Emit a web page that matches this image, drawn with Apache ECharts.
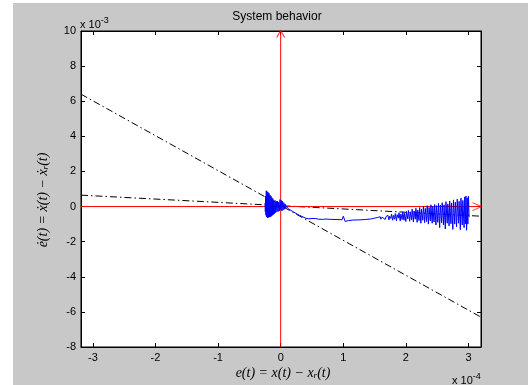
<!DOCTYPE html>
<html><head><meta charset="utf-8">
<script src="https://cdn.jsdelivr.net/npm/echarts@6/dist/echarts.min.js"></script>
<style>html,body{margin:0;padding:0;background:#fff}#c{width:528px;height:385px}</style>
</head><body><div id="c"></div>
<script>
// ---- data (x in units of 1e-4, y in units of 1e-3) ----
const xTicks = [-3, -2, -1, 0, 1, 2, 3];
const yTicks = [-8, -6, -4, -2, 0, 2, 4, 6, 8, 10];
const xRange = [-3.19, 3.2];
const yRange = [-8, 10];
// dash-dot guide lines (endpoints)
const guideSteep = [[-3.19, 6.4], [3.2, -6.3]];
const guideShallow = [[-3.19, 0.65], [3.2, -0.55]];
// red coordinate axes
const redHorizontal = [[-3.19, 0], [3.2, 0]];
const redVertical = [[0, -8], [0, 10]];
// blue system trajectory
const trajectory = [
  [-0.25,0.2],[-0.245,-0.3],[-0.24,0.6],[-0.235,-0.5],[-0.23,0.9],[-0.222,-0.6],[-0.215,0.85],[-0.207,-0.65],
  [-0.2,0.8],[-0.193,-0.62],[-0.186,0.75],[-0.178,-0.6],[-0.17,0.65],[-0.162,-0.58],[-0.155,0.6],[-0.147,-0.55],
  [-0.14,0.5],[-0.132,-0.5],[-0.125,0.45],[-0.117,-0.45],[-0.11,0.35],[-0.1,-0.4],[-0.09,0.35],[-0.08,-0.35],
  [-0.07,0.3],[-0.06,-0.3],[-0.05,0.3],[-0.04,-0.28],[-0.03,0.25],[-0.02,-0.25],[-0.01,0.4],[0.0,-0.2],
  [0.01,0.35],[0.02,-0.25],[0.03,0.3],[0.04,-0.2],[0.05,0.22],[0.06,-0.15],[0.07,0.15],[0.08,-0.1],[0.09,0.02],
  [0.12,-0.12],[0.2,-0.3],[0.3,-0.5],[0.4,-0.66],[0.45,-0.7],[0.5,-0.68],[0.53,-0.72],[0.56,-0.68],[0.6,-0.72],
  [0.63,-0.69],[0.67,-0.73],[0.72,-0.71],[0.8,-0.73],[0.9,-0.74],[0.98,-0.75],[1.0,-0.55],[1.01,-0.45],
  [1.02,-0.6],[1.03,-0.85],[1.05,-0.92],[1.08,-0.8],[1.15,-0.77],[1.25,-0.76],[1.35,-0.74],[1.45,-0.7],
  [1.5,-0.66],[1.55,-0.62],[1.57,-0.7],[1.59,-0.58],[1.6,-0.72],[1.62,-0.6],[1.64,-0.66],[1.65,-0.52],
  [1.67,-0.74],[1.68,-0.6],[1.7,-0.7],[1.71,-0.48],[1.73,-0.76],[1.74,-0.55],[1.76,-0.68],[1.77,-0.44],
  [1.79,-0.78],[1.8,-0.5],[1.82,-0.72],[1.83,-0.4],[1.85,-0.8],[1.86,-0.46],[1.88,-0.66],[1.89,-0.35],
  [1.91,-0.82],[1.92,-0.42],[1.94,-0.74],[1.95,-0.3],[1.97,-0.78],[1.98,-0.38],[2.0,-0.85],[2.01,-0.28],
  [2.03,-0.7],[2.04,-0.22],[2.06,-0.84],[2.07,-0.3],[2.09,-0.76],[2.1,-0.15],[2.12,-0.88],[2.13,-0.25],
  [2.15,-0.72],[2.16,-0.1],[2.18,-0.9],[2.19,-0.2],[2.21,-0.8],[2.22,-0.06],[2.24,-0.95],[2.25,-0.15],
  [2.27,-0.78],[2.28,0.0],[2.3,-0.92],[2.31,-0.1],[2.33,-0.85],[2.34,0.05],[2.36,-1.0],[2.37,-0.05],
  [2.39,-0.82],[2.4,0.1],[2.42,-0.95],[2.43,0.0],[2.45,-0.88],[2.46,0.12],[2.48,-1.05],[2.49,0.05],
  [2.51,-0.9],[2.52,0.18],[2.54,-1.2],[2.55,0.08],[2.57,-0.92],[2.58,0.22],[2.6,-1.05],[2.61,0.1],
  [2.63,-1.28],[2.64,0.28],[2.66,-0.95],[2.67,0.15],[2.69,-1.1],[2.7,0.32],[2.72,-0.98],[2.73,0.2],
  [2.75,-1.3],[2.76,0.38],[2.78,-1.0],[2.79,0.25],[2.81,-1.15],[2.82,0.42],[2.84,-0.95],[2.85,0.3],
  [2.87,-1.32],[2.88,0.48],[2.9,-1.05],[2.91,0.35],[2.93,-1.2],[2.94,0.55],[2.95,-0.98],[2.96,0.6],
  [2.97,-1.35],[2.98,0.5],[2.99,-1.0],[3.0,0.58],[3.01,-0.6]
];

const chart = echarts.init(document.getElementById('c'), null, {renderer: 'canvas'});
const tickFont = {color: '#000', fontSize: 11, fontFamily: 'Liberation Sans, Arial, sans-serif'};
const chevron = 'path://M0,0L10,5L0,10';
const serif = 'Liberation Serif, DejaVu Serif, serif';

chart.setOption({
  animation: false,
  backgroundColor: '#ffffff',
  grid: {left: 81, right: 47, top: 31, bottom: 38, show: true, backgroundColor: '#fff', borderColor: '#000', borderWidth: 1},
  graphic: [
    {type: 'rect', z: -10, silent: true, shape: {x: 13, y: 3, width: 515, height: 382}, style: {fill: '#c8c8c8'}},
    {type: 'text', x: 277, y: 17, style: {text: 'System behavior', align: 'center', verticalAlign: 'middle', font: '12px Liberation Sans, Arial, sans-serif', fill: '#000'}},
    {type: 'text', x: 80, y: 16, style: {text: 'x 10{s|-3}', font: '11px Liberation Sans, Arial, sans-serif', fill: '#000',
      rich: {s: {fontSize: 9, padding: [0,0,8,0], fontFamily: 'Liberation Sans, Arial, sans-serif'}}}},
    {type: 'text', x: 452, y: 372, style: {text: 'x 10{s|-4}', font: '11px Liberation Sans, Arial, sans-serif', fill: '#000',
      rich: {s: {fontSize: 9, padding: [0,0,8,0], fontFamily: 'Liberation Sans, Arial, sans-serif'}}}},
    {type: 'text', x: 283, y: 373, style: {text: 'e(t) = x(t) − x{s|r}(t)', align: 'center', verticalAlign: 'middle',
      font: 'italic 14px ' + serif, fill: '#000',
      rich: {s: {fontStyle: 'italic', fontSize: 9, fontFamily: serif, padding: [6,0,0,0]}}}},
    {type: 'text', x: 43, y: 200, rotation: Math.PI / 2, style: {text: 'ė(t) = ẋ(t) − ẋ{s|r}(t)', align: 'center', verticalAlign: 'middle',
      font: 'italic 14px ' + serif, fill: '#000',
      rich: {s: {fontStyle: 'italic', fontSize: 9, fontFamily: serif, padding: [6,0,0,0]}}}}
  ],
  xAxis: [
    {type: 'value', position: 'bottom', min: xRange[0], max: xRange[1],
      axisLine: {onZero: false, lineStyle: {color: '#000', width: 1}},
      axisTick: {inside: true, length: 4, customValues: xTicks, lineStyle: {color: '#000'}},
      axisLabel: Object.assign({margin: 5, customValues: xTicks, formatter: v => String(v)}, tickFont),
      splitLine: {show: false}},
    {type: 'value', position: 'top', min: xRange[0], max: xRange[1],
      axisLine: {onZero: false, lineStyle: {color: '#000', width: 1}},
      axisTick: {inside: true, length: 4, customValues: xTicks, lineStyle: {color: '#000'}},
      axisLabel: {show: false}, splitLine: {show: false}}
  ],
  yAxis: [
    {type: 'value', position: 'left', min: yRange[0], max: yRange[1], interval: 2,
      axisLine: {show: true, onZero: false, lineStyle: {color: '#000', width: 1}},
      axisTick: {show: true, inside: true, length: 4, lineStyle: {color: '#000'}},
      axisLabel: Object.assign({margin: 5}, tickFont), splitLine: {show: false}},
    {type: 'value', position: 'right', min: yRange[0], max: yRange[1], interval: 2,
      axisLine: {show: true, onZero: false, lineStyle: {color: '#000', width: 1}},
      axisTick: {show: true, inside: true, length: 4, lineStyle: {color: '#000'}},
      axisLabel: {show: false}, splitLine: {show: false}}
  ],
  series: [
    {type: 'line', data: guideSteep, showSymbol: false, lineStyle: {color: '#000', width: 1, type: [7, 3, 1.5, 3]}, z: 2},
    {type: 'line', data: guideShallow, showSymbol: false, lineStyle: {color: '#000', width: 1, type: [7, 3, 1.5, 3]}, z: 2},
    {type: 'line', data: redHorizontal, showSymbol: false, lineStyle: {color: '#ff0000', width: 1}, z: 3},
    {type: 'line', data: redVertical, showSymbol: false, lineStyle: {color: '#ff0000', width: 1}, z: 3},
    {type: 'line', data: trajectory, showSymbol: false, lineStyle: {color: '#0000ff', width: 1}, z: 4},
    {type: 'scatter', clip: false, z: 5, data: [redHorizontal[1]], symbol: chevron, symbolSize: [9, 8], symbolOffset: [-4, 0],
      itemStyle: {color: 'rgba(0,0,0,0)', borderColor: '#ff0000', borderWidth: 1}},
    {type: 'scatter', clip: false, z: 5, data: [redVertical[1]], symbol: chevron, symbolSize: [7, 8], symbolRotate: 90, symbolOffset: [0, 3],
      itemStyle: {color: 'rgba(0,0,0,0)', borderColor: '#ff0000', borderWidth: 1}}
  ]
});
</script></body></html>
